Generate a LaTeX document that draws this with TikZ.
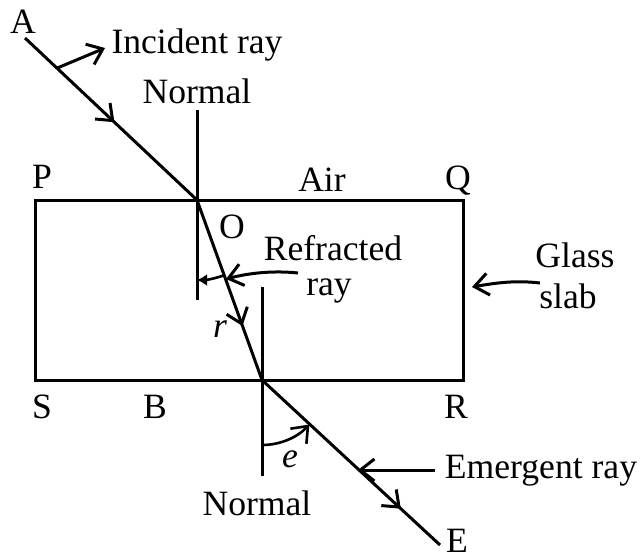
\documentclass[tikz,border=0pt]{standalone}
\usepackage{fontspec}
\setmainfont{Liberation Serif}
\usetikzlibrary{arrows.meta,decorations.markings}
\begin{document}
\begin{tikzpicture}[x=0.5pt,y=-0.5pt, line width=1.5pt,
 lbl/.style={font=\fontsize{17.8}{20}\selectfont, inner sep=0pt, anchor=base},
 barb/.style={-{Straight Barb[length=7pt,width=11pt]}},
 midarrow/.style={postaction={decorate}, decoration={markings, mark=at position #1 with {\arrow{Straight Barb[length=7pt,width=11pt]}}}},
]
\useasboundingbox (0,0) rectangle (640,558);
% key points
\coordinate (A) at (25,38);
\coordinate (O) at (197,200);
\coordinate (X) at (262,380);
\coordinate (E) at (440,545);
\coordinate (P0) at (35,200);
\coordinate (R0) at (463,380);
\coordinate (N1t) at (197,110);
\coordinate (N1b) at (197,300);
\coordinate (N2t) at (262,287);
\coordinate (N2b) at (262,476);
% slab
\draw (P0) rectangle (R0);
% normals
\draw (N1t) -- (N1b);
\draw (N2t) -- (N2b);
% rays
\draw[midarrow=0.52] (A) -- (O);
\draw[midarrow=0.7] (O) -- (X);
\draw[midarrow=0.78] (X) -- (E);
% angle arcs
\draw[line width=1.3pt,-{Latex[length=5pt,width=6pt]}] (O) ++(70.1:80) arc[start angle=70.1, end angle=90, radius=80];
\draw[line width=1.3pt,barb] (X) ++(90:65) arc[start angle=90, end angle=43.2, radius=65];
% labels
\node[lbl] (lA) at (23,33) {A};
\node[lbl] (lInc) at (197,53) {Incident ray};
\node[lbl] (lN1) at (197,103) {Normal};
\node[lbl] (lP) at (42,188) {P};
\node[lbl] (lAir) at (322,191) {Air};
\node[lbl] (lQ) at (458,189) {Q};
\node[lbl] (lO) at (232,238) {O};
\node[lbl] (lRef) at (333,260) {Refracted};
\node[lbl] (lRay) at (329,295) {ray};
\node[lbl] (lGlass) at (575,267) {Glass};
\node[lbl] (lSlab) at (568,308) {slab};
\node[lbl] (lr) at (220,337) {\itshape r};
\node[lbl] (lS) at (42,418) {S};
\node[lbl] (lB) at (155,418) {B};
\node[lbl] (lR) at (456,418) {R};
\node[lbl] (le) at (290,467) {\itshape e};
\node[lbl] (lEm) at (541,478) {Emergent ray};
\node[lbl] (lN2) at (257,515) {Normal};
\node[lbl] (lE) at (457,552) {E};
% pointer arrows
\path (A) -- (O) coordinate[pos=0.186] (incfoot);
\draw[barb] (incfoot) -- (105,48);
\draw[barb] (298,273) .. controls (270,270) and (245,274) .. (226,279);
\draw[barb] (540,283) .. controls (515,280) and (495,283) .. (472,287);
\draw[barb] (435,470) -- (358,470);
\end{tikzpicture}
\end{document}
